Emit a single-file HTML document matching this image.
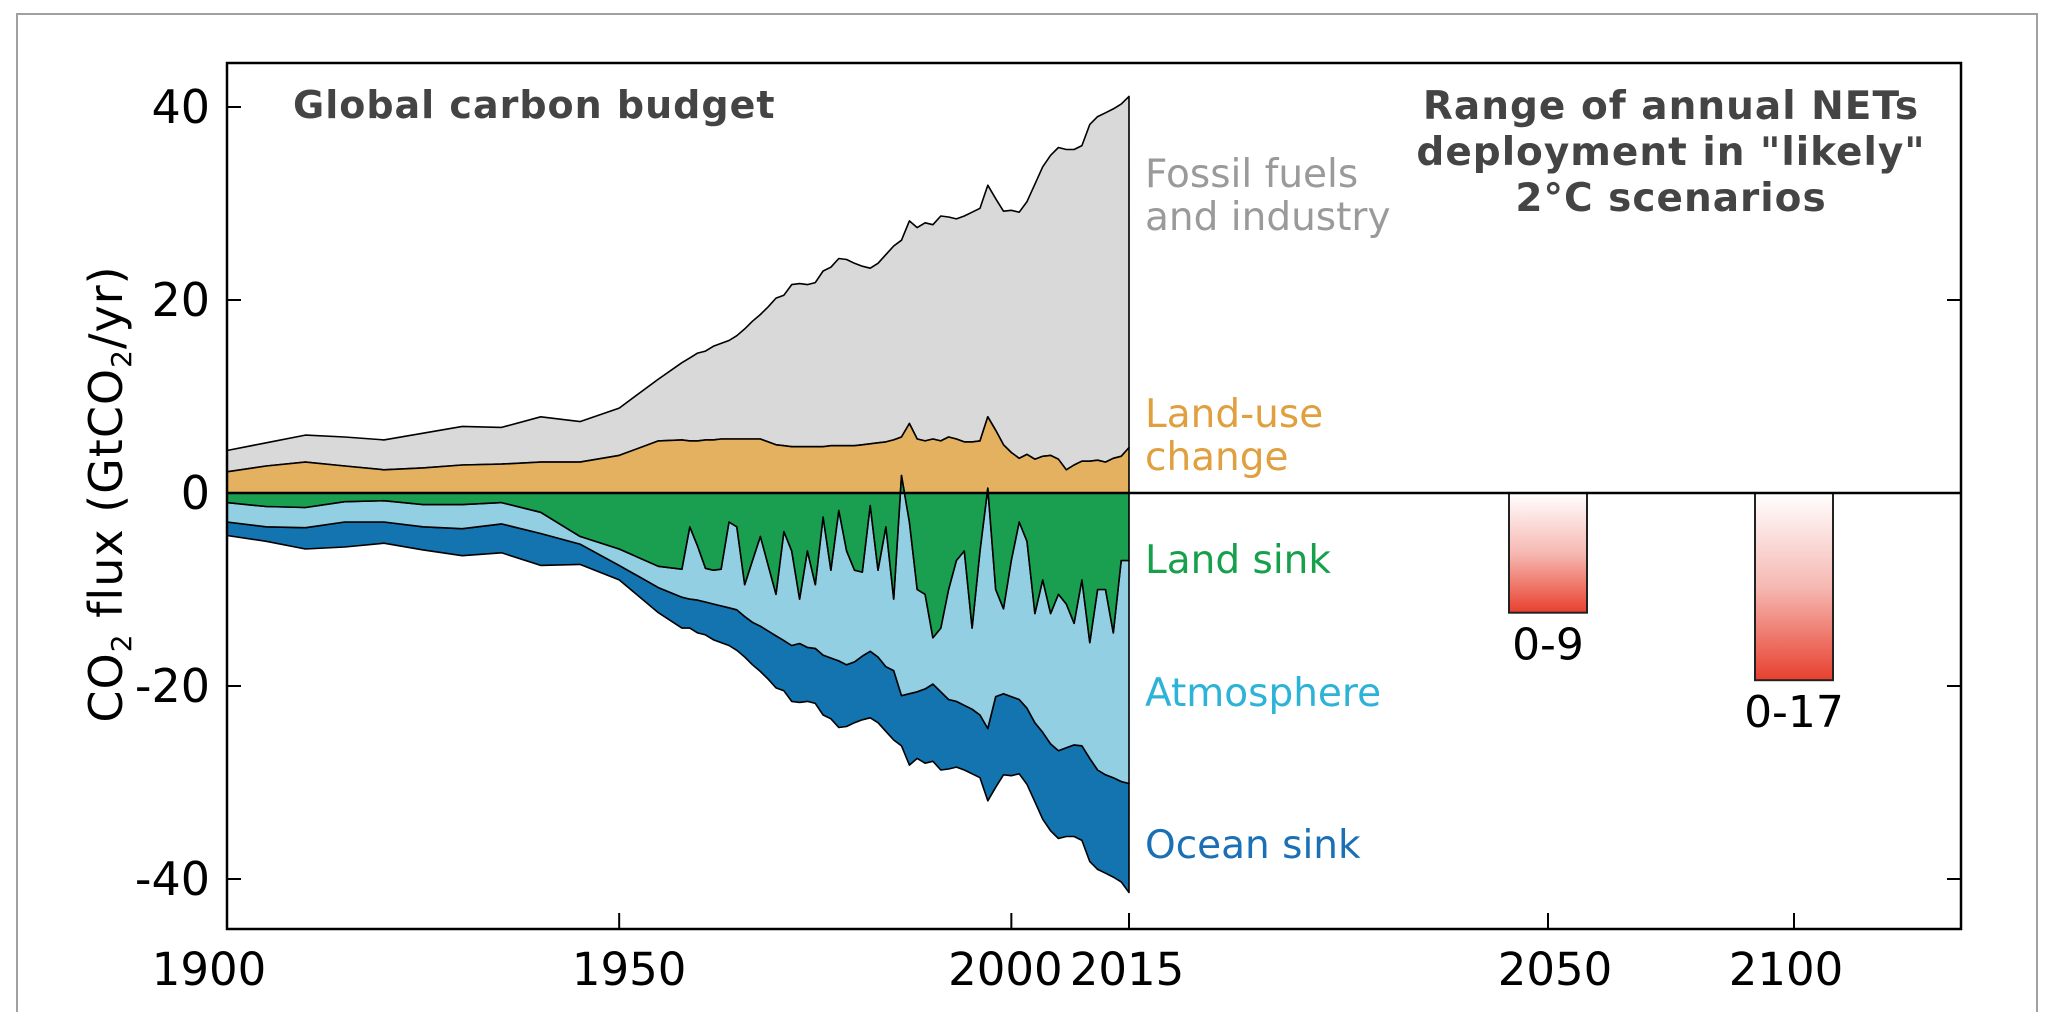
<!DOCTYPE html>
<html><head><meta charset="utf-8"><style>
html,body{margin:0;padding:0;background:#fff;}
svg{display:block;font-family:"DejaVu Sans","Liberation Sans",sans-serif;}
</style></head><body>
<svg id="chart" width="2050" height="1012" viewBox="0 0 2050 1012" xmlns="http://www.w3.org/2000/svg">
<defs>
<linearGradient id="netGrad" x1="0" y1="0" x2="0" y2="1">
<stop offset="0" stop-color="#ffffff"/><stop offset="0.5" stop-color="#f6b9b3"/><stop offset="1" stop-color="#e8402e"/>
</linearGradient>
</defs>
<rect x="17" y="14" width="2020" height="1010" fill="none" stroke="#a0a0a0" stroke-width="2"/>
<g id="areas"></g>
<g id="bars"></g>
<rect x="227" y="63" width="1734" height="866" fill="none" stroke="#000" stroke-width="2.5"/>
<line x1="227" y1="493" x2="1961" y2="493" stroke="#000" stroke-width="2.5"/>
<g id="axes"></g>
<text x="293" y="118" font-size="38" font-weight="bold" letter-spacing="1" fill="#444">Global carbon budget</text>
<g font-size="39" font-weight="bold" letter-spacing="1" fill="#444" text-anchor="middle">
<text x="1671" y="119">Range of annual NETs</text>
<text x="1671" y="165">deployment in "likely"</text>
<text x="1671" y="211">2°C scenarios</text>
</g>
<g font-size="39">
<text x="1145" y="187" fill="#9a9a9a"><tspan x="1145">Fossil fuels</tspan><tspan x="1145" y="230">and industry</tspan></text>
<text x="1145" y="427" fill="#e0a040"><tspan x="1145">Land-use</tspan><tspan x="1145" y="470">change</tspan></text>
<text x="1145" y="573" fill="#17a04c">Land sink</text>
<text x="1145" y="706" fill="#2db2d8">Atmosphere</text>
<text x="1145" y="858" fill="#1a6fb5">Ocean sink</text>
</g>
<text transform="translate(122,494) rotate(-90)" font-size="46" letter-spacing="1" text-anchor="middle" fill="#000">CO<tspan font-size="28" dy="9">2</tspan><tspan dy="-9"> flux (GtCO</tspan><tspan font-size="28" dy="9">2</tspan><tspan dy="-9">/yr)</tspan></text>
</svg>
<script>
const years=[1900,1905,1910,1915,1920,1925,1930,1935,1940,1945,1950,1955,1958,1959,1960,1961,1962,1963,1964,1965,1966,1967,1968,1969,1970,1971,1972,1973,1974,1975,1976,1977,1978,1979,1980,1981,1982,1983,1984,1985,1986,1987,1988,1989,1990,1991,1992,1993,1994,1995,1996,1997,1998,1999,2000,2001,2002,2003,2004,2005,2006,2007,2008,2009,2010,2011,2012,2013,2014,2015];
const totalEmissions=[4.4,5.2,6.0,5.8,5.5,6.2,6.9,6.8,7.9,7.4,8.8,11.8,13.5,14.0,14.5,14.7,15.2,15.5,15.8,16.3,17.0,17.8,18.5,19.3,20.2,20.5,21.6,21.7,21.6,21.8,23.0,23.4,24.3,24.2,23.8,23.5,23.3,23.8,24.7,25.6,26.2,28.2,27.5,28.0,27.8,28.7,28.6,28.4,28.7,29.1,29.5,31.9,30.5,29.2,29.3,29.1,30.2,32.0,33.8,35.0,35.8,35.6,35.6,36.0,38.2,39.0,39.4,39.8,40.3,41.1];
const landUse=[2.2,2.8,3.2,2.8,2.4,2.6,2.9,3.0,3.2,3.2,3.9,5.4,5.5,5.4,5.4,5.5,5.5,5.6,5.6,5.6,5.6,5.6,5.6,5.3,5.0,4.9,4.8,4.8,4.8,4.8,4.8,4.9,4.9,4.9,4.9,5.0,5.1,5.2,5.3,5.5,5.8,7.2,5.6,5.4,5.6,5.4,5.8,5.6,5.3,5.3,5.4,7.9,6.5,5.0,4.2,3.6,4.0,3.5,3.8,3.9,3.5,2.4,2.9,3.3,3.3,3.4,3.2,3.6,3.8,4.7];
const landSinkEdge=[-1.0,-1.4,-1.5,-0.9,-0.8,-1.2,-1.2,-1.0,-2.0,-4.5,-5.8,-7.6,-7.9,-3.5,-5.5,-7.8,-8.0,-7.9,-3.0,-3.5,-9.5,-7.0,-4.5,-7.5,-10.5,-4.0,-6.0,-11.0,-6.0,-9.5,-2.5,-8.0,-1.8,-6.0,-8.0,-8.2,-1.3,-8.0,-3.5,-11.0,1.8,-3.0,-10.0,-10.5,-15.0,-14.0,-10.0,-7.0,-6.0,-14.0,-6.0,0.5,-10.0,-12.0,-7.0,-3.0,-5.0,-12.5,-9.0,-12.5,-10.5,-11.5,-13.5,-9.0,-15.5,-10.0,-10.0,-14.5,-7.0,-7.0];
const atmosphereEdge=[-3.0,-3.5,-3.6,-3.0,-3.0,-3.5,-3.7,-3.2,-4.2,-5.3,-7.5,-9.8,-10.8,-11.0,-11.1,-11.3,-11.5,-11.7,-11.9,-12.1,-12.8,-13.4,-13.8,-14.3,-14.8,-15.3,-15.8,-15.6,-16.0,-16.1,-16.8,-17.1,-17.4,-17.8,-17.5,-16.9,-16.4,-17.0,-18.0,-18.4,-21.0,-20.8,-20.6,-20.3,-19.8,-20.6,-21.4,-21.6,-22.0,-22.4,-23.0,-24.4,-21.1,-20.8,-21.1,-21.4,-22.3,-23.8,-24.8,-26.0,-26.7,-26.4,-26.1,-26.2,-27.5,-28.7,-29.2,-29.5,-29.9,-30.1];
const oceanEdge=[-4.4,-5.0,-5.8,-5.6,-5.2,-5.9,-6.5,-6.2,-7.5,-7.4,-9.0,-12.4,-14.0,-14.0,-14.5,-14.7,-15.2,-15.5,-15.8,-16.3,-17.0,-17.8,-18.5,-19.3,-20.2,-20.5,-21.6,-21.7,-21.6,-21.8,-23.0,-23.4,-24.3,-24.2,-23.8,-23.5,-23.3,-23.8,-24.7,-25.6,-26.2,-28.2,-27.5,-28.0,-27.8,-28.7,-28.6,-28.4,-28.7,-29.1,-29.5,-31.9,-30.5,-29.2,-29.3,-29.1,-30.2,-32.0,-33.8,-35.0,-35.8,-35.6,-35.6,-36.0,-38.2,-39.0,-39.4,-39.8,-40.3,-41.4];
const netYears=[2050,2100];
const netValues=[12.4,19.4];
const netLabels=["0-9","0-17"];
const yTicks=[40,20,0,-20,-40];
const xTicksHist=[1900,1950,2000,2015];

const NS="http://www.w3.org/2000/svg";
function xs(yr){ if(yr<=2015) return 227+(yr-1900)*(902/115); return 1548+(yr-2050)*(246/50); }
function ys(v){ return 493-v*9.65; }
function el(tag,attrs,parent){const e=document.createElementNS(NS,tag);for(const k in attrs)e.setAttribute(k,attrs[k]);parent.appendChild(e);return e;}
function band(upper,lower,fill,name){
  let d="M"+years.map((y,i)=>xs(y).toFixed(1)+","+ys(upper[i]).toFixed(1)).join("L");
  for(let i=years.length-1;i>=0;i--) d+="L"+xs(years[i]).toFixed(1)+","+ys(lower[i]).toFixed(1);
  d+="Z";
  const p=el("path",{d:d,fill:fill,stroke:"#000","stroke-width":"1.6","stroke-linejoin":"round"},document.getElementById("areas"));
  
  
}
const zeros=years.map(()=>0);
band(totalEmissions,landUse,"#d9d9d9","fossil-fuels-area");
band(landUse,zeros,"#e3b15f","land-use-area");
band(atmosphereEdge,oceanEdge,"#1474b0","ocean-sink-area");
band(landSinkEdge,atmosphereEdge,"#93cfe3","atmosphere-area");
band(zeros,landSinkEdge,"#1a9e50","land-sink-area");

const bars=document.getElementById("bars");
netYears.forEach((yr,i)=>{
  const cx=xs(yr);
  const r=el("rect",{x:(cx-39).toFixed(1),y:ys(0),width:78,height:(ys(-netValues[i])-ys(0)).toFixed(1),fill:"url(#netGrad)",stroke:"#222","stroke-width":"2"},bars);
  
  
  const t=el("text",{x:cx,y:(ys(-netValues[i])+47).toFixed(1),"font-size":"44","text-anchor":"middle",fill:"#000"},bars);
  t.textContent=netLabels[i];
  
  
});

const axes=document.getElementById("axes");
yTicks.forEach(v=>{
  const y=ys(v);
  const l=el("line",{x1:227,y1:y,x2:241,y2:y,stroke:"#000","stroke-width":"2"},axes);
  
  
  if(v!==40&&v!==0){
    const r=el("line",{x1:1947,y1:y,x2:1961,y2:y,stroke:"#000","stroke-width":"2"},axes);
    
    
  }
  const t=el("text",{x:210,y:y+16,"font-size":"46","text-anchor":"end",fill:"#000"},axes);
  t.textContent=String(v);
  
  
});
const labelShift={1900:-18,1950:10,2000:-6,2015:-2,2050:7,2100:-8};
xTicksHist.concat(netYears).forEach(yr=>{
  const x=xs(yr);
  const l=el("line",{x1:x,y1:929,x2:x,y2:913,stroke:"#000","stroke-width":"2"},axes);
  
  
  const t=el("text",{x:x+labelShift[yr],y:985,"font-size":"45","text-anchor":"middle",fill:"#000"},axes);
  t.textContent=String(yr);
  
  
});
</script>
</body></html>
